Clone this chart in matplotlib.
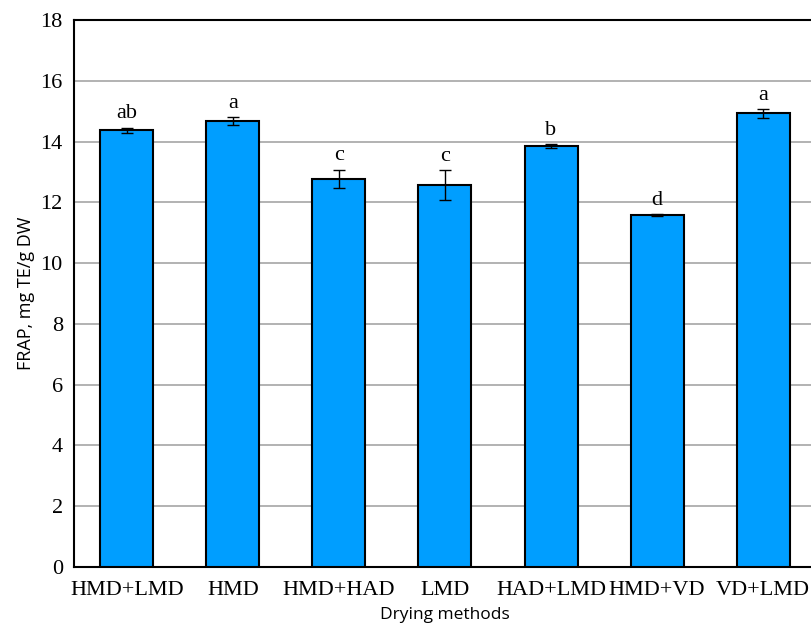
import matplotlib
matplotlib.use('Agg')
from matplotlib import pyplot as plt

# values
methods = ['HMD+LMD', 'HMD', 'HMD+HAD', 'LMD', 'HAD+LMD', 'HMD+VD', 'VD+LMD']
frap = [14.37, 14.68, 12.77, 12.57, 13.85, 11.59, 14.93]
frap_err = [0.09, 0.14, 0.31, 0.49, 0.07, 0.03, 0.15]
letters = ['ab', 'a', 'c', 'c', 'b', 'd', 'a']

fig = plt.figure(figsize=(8.11, 6.26), dpi=100)
ax = fig.add_axes([0.0912, 0.0942, 0.915, 0.8738])

x = range(len(methods))
ax.bar(x, frap, width=0.5, color='#009EFF', edgecolor='black', linewidth=1.5, zorder=3)
ax.errorbar(x, frap, yerr=frap_err, fmt='none', ecolor='black',
            elinewidth=1, capsize=4, capthick=1, zorder=4)

# significance letters
for i, (v, e, l) in enumerate(zip(frap, frap_err, letters)):
    ax.text(i, v + e + 0.3, l, ha='center', va='baseline',
            fontsize=16, family='Liberation Serif')

ax.set_xlim(-0.5, 6.5)
ax.set_ylim(0, 18)
ax.set_yticks(range(0, 19, 2))
ax.set_xticks(list(x))
ax.set_xticklabels(methods)
for lab in ax.get_xticklabels() + ax.get_yticklabels():
    lab.set_family('Liberation Serif')
    lab.set_fontsize(16)
ax.tick_params(axis='x', length=0, pad=10)
ax.tick_params(axis='y', length=0, pad=8)

ax.yaxis.grid(True, color='#A6A6A6', linewidth=1.2, zorder=0)
ax.spines['right'].set_visible(False)
for s in ['left', 'top', 'bottom']:
    ax.spines[s].set_linewidth(1.5)

ax.set_xlabel('Drying methods', family='Open Sans', fontsize=12.5, labelpad=5)
ax.set_ylabel('FRAP, mg TE/g DW', family='Open Sans', fontsize=13, labelpad=4)

fig.savefig('out.png', dpi=100)
